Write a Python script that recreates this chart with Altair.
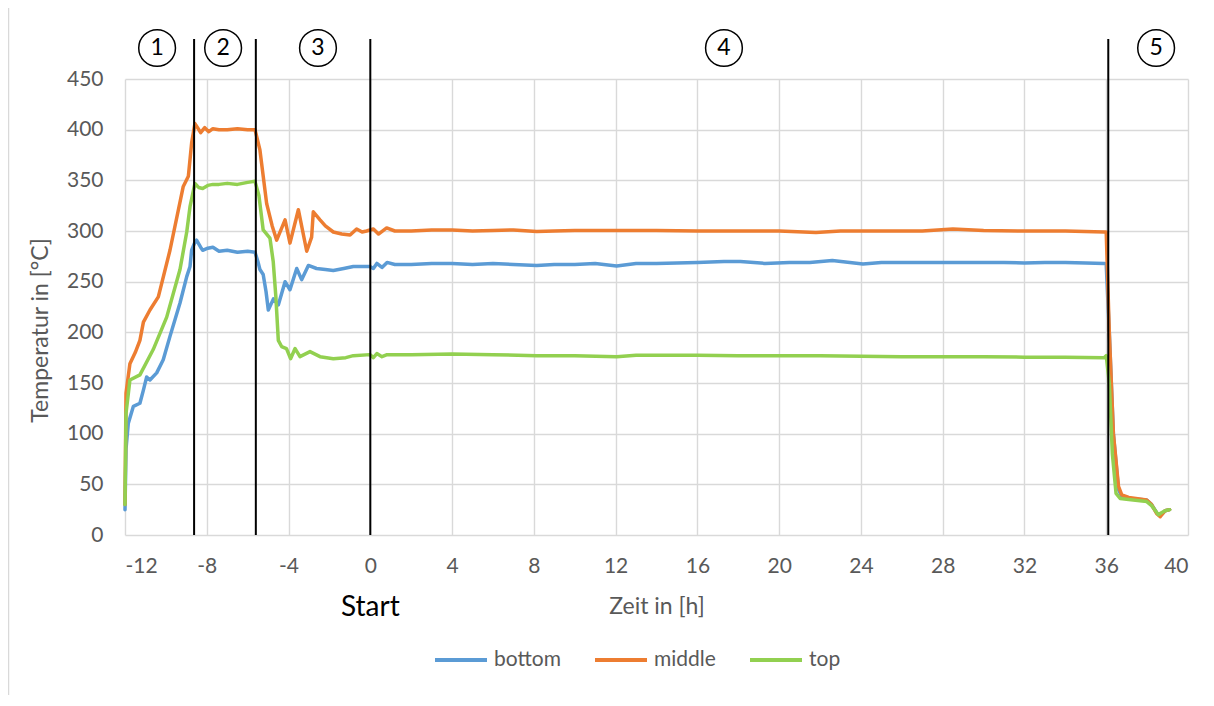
import altair as alt
import pandas as pd

# ---- data ----
series_names = ["bottom", "middle", "top"]
series_colors = ["#5B9BD5", "#ED7D31", "#92D050"]

bottom_t = [-12, -11.95, -11.84, -11.59, -11.27, -11.1, -10.94, -10.78, -10.45, -10.13,
            -9.8, -9.31, -8.98, -8.82, -8.74, -8.6, -8.5, -8.3, -8.2, -7.95,
            -7.7, -7.4, -7.0, -6.5, -6.0, -5.64, -5.5, -5.4, -5.24, -5.1,
            -4.99, -4.74, -4.5, -4.17, -3.93, -3.6, -3.36, -3.03, -2.63, -2.2,
            -1.81, -1.3, -0.83, -0.4, -0.02, 0.15, 0.32, 0.57, 0.82, 1.2,
            2, 3, 4, 5, 6, 7, 8.14, 9, 10, 11,
            12.05, 13, 14, 15, 16, 17.3, 18.1, 19.3, 20.5, 21.5,
            22.6, 24.1, 25, 26, 27, 28, 29, 30, 31, 32,
            33, 34, 35, 35.9, 36.0, 36.15, 36.35, 36.6, 36.76, 37.1,
            37.98, 38.22, 38.47, 38.64, 38.88, 39.1]
bottom_y = [25, 85, 110, 127, 130, 143, 156, 153, 160, 173,
            196, 229, 255, 265, 281, 288, 291, 284, 281, 283,
            284, 280, 281, 279, 280, 279, 270, 262, 257, 240,
            222, 233, 227, 250, 242, 263, 252, 266, 263, 262,
            261, 263, 265, 265, 265, 263, 268, 264, 269, 267,
            267, 268, 268, 267, 268, 267, 266, 267, 267, 268,
            265.5, 268, 268, 268.5, 269, 270, 270, 268, 269, 269,
            271, 267.5, 269, 269, 269, 269, 269, 269, 269, 268.5,
            269, 269, 268.5, 268, 267, 200, 100, 45, 38, 36,
            34.5, 30, 22, 19, 24, 25]

middle_t = [-12, -11.95, -11.76, -11.5, -11.27, -11.1, -10.78, -10.37, -9.8, -9.15,
            -8.9, -8.74, -8.58, -8.45, -8.3, -8.1, -7.9, -7.7, -7.4, -7.0,
            -6.5, -6.0, -5.64, -5.4, -5.07, -4.8, -4.58, -4.17, -3.93, -3.52,
            -3.11, -2.87, -2.79, -2.46, -2.2, -1.81, -1.4, -0.99, -0.67, -0.4,
            -0.18, 0.15, 0.4, 0.8, 1.2, 2, 3, 4, 5, 6,
            7, 8.14, 9, 10, 12, 14, 16, 18, 20, 21.8,
            23, 25, 27, 28.5, 30, 32, 34, 35.9, 36.0, 36.15,
            36.35, 36.6, 36.76, 37.1, 37.98, 38.22, 38.47, 38.64, 38.88, 39.1]
middle_y = [30, 140, 169, 180, 192, 210, 222, 235, 281, 344,
            354, 387, 406, 402, 397, 402, 398, 401, 400, 400,
            401, 400, 400, 380, 327, 305, 291, 311, 288, 321,
            280, 294, 319, 311, 305, 299, 297, 296, 302, 299,
            300, 302, 297, 303, 300, 300, 301, 301, 300, 300.5,
            301, 299.5, 300, 300.5, 300.5, 300.5, 300, 300, 300, 298.5,
            300, 300, 300, 302, 300.5, 300, 300, 299, 299, 200,
            100, 48, 39.5, 37, 34.5, 30, 21, 18, 24, 25]

top_t = [-12, -11.95, -11.76, -11.27, -10.62, -9.96, -9.31, -8.98, -8.82, -8.58,
         -8.4, -8.2, -7.95, -7.7, -7.4, -7.0, -6.5, -6.0, -5.64, -5.45,
         -5.24, -4.91, -4.75, -4.62, -4.5, -4.34, -4.1, -3.9, -3.68, -3.44,
         -2.95, -2.46, -1.81, -1.2, -0.83, -0.02, 0.15, 0.32, 0.57, 0.82,
         2, 4, 6, 8.14, 10, 12.05, 13, 16, 18, 20,
         22, 24, 26, 28, 30, 32, 34, 35.9, 36.0, 36.15,
         36.3, 36.48, 36.68, 37.1, 37.98, 38.22, 38.55, 38.7, 38.88, 39.1]
top_y = [30, 120, 153, 158, 183, 215, 262, 299, 324, 347,
         343, 342, 345, 346, 346, 347, 346, 348, 349, 335,
         301, 293, 270, 235, 192, 186, 184, 174, 184, 176,
         181, 176, 174, 175, 177, 178, 175, 179, 176, 178,
         178, 178.5, 178, 177, 177, 176, 177.5, 177.5, 177, 177,
         177, 176.5, 176, 176, 176, 175.5, 175.5, 175, 177, 150,
         80, 41, 36, 35, 33, 29, 20, 22, 24, 25]

phase_bounds = [-8.62, -5.6, 0.0, 36.1]
phase_labels = ["1", "2", "3", "4", "5"]
phase_label_x = [-10.43, -7.2, -2.56, 17.3, 38.44]
start_label = ["Start"]
start_label_x = [0.0]

x_ticks = list(range(-12, 41, 4))
y_ticks = list(range(0, 451, 50))

# ---- tables ----
rows = []
for name, ts, ys in [("bottom", bottom_t, bottom_y), ("middle", middle_t, middle_y), ("top", top_t, top_y)]:
    assert len(ts) == len(ys), name
    for t, v in zip(ts, ys):
        rows.append({"series": name, "t": t, "temp": v})
df = pd.DataFrame(rows)
bounds_df = pd.DataFrame({"t": phase_bounds})
labels_df = pd.DataFrame({"t": phase_label_x, "label": phase_labels})
start_df = pd.DataFrame({"t": start_label_x, "label": start_label})

FONT = "Lato"
GRAY = "#595959"
xscale = alt.Scale(domain=[-12, 40], nice=False, zero=False)
yscale = alt.Scale(domain=[0, 450], nice=False)

lines = alt.Chart(df).mark_line(strokeWidth=3.5, strokeCap="round", strokeJoin="round").encode(
    x=alt.X("t:Q", scale=xscale, title="Zeit in [h]",
            axis=alt.Axis(values=x_ticks, labelExpr="toString(datum.value)", grid=True,
                          ticks=False, domain=False,
                          labelPadding=37, labelBaseline="alphabetic",
                          titleY=78, titleBaseline="alphabetic")),
    y=alt.Y("temp:Q", scale=yscale, title="Temperatur in [°C]",
            axis=alt.Axis(values=y_ticks, grid=True, ticks=False, domain=False,
                          labelPadding=22,
                          titleX=-78, titleY=251, titleBaseline="alphabetic", titleAlign="center")),
    color=alt.Color("series:N", scale=alt.Scale(domain=series_names, range=series_colors),
                    legend=alt.Legend(title=None, orient="none", direction="horizontal",
                                      legendX=308, legendY=553, symbolType="stroke",
                                      symbolSize=2704, symbolStrokeWidth=4,
                                      labelFontSize=21, labelFont=FONT, labelColor=GRAY,
                                      labelOffset=5, columnPadding=26, padding=0)),
)

rules = alt.Chart(bounds_df).mark_rule(color="black", strokeWidth=2).encode(
    x=alt.X("t:Q", scale=xscale),
    y=alt.value(-40),
    y2=alt.value(456),
)

circles = alt.Chart(labels_df).mark_point(shape="circle", size=1350, filled=False,
                                          color="black", strokeWidth=1.5, opacity=1).encode(
    x=alt.X("t:Q", scale=xscale),
    y=alt.value(-31),
)
nums = alt.Chart(labels_df).mark_text(font=FONT, fontSize=23, color="black", baseline="middle").encode(
    x=alt.X("t:Q", scale=xscale),
    y=alt.value(-31),
    text="label:N",
)
start = alt.Chart(start_df).mark_text(font=FONT, fontSize=28, color="black", baseline="alphabetic").encode(
    x=alt.X("t:Q", scale=xscale),
    y=alt.value(537),
    text="label:N",
)
border = alt.Chart(start_df).mark_rule(color="#D9D9D9", strokeWidth=1.5).encode(
    x=alt.value(-116.5),
    y=alt.value(-79),
    y2=alt.value(620),
)

chart = alt.layer(lines, rules, circles, nums, start, border).properties(
    width=1063, height=456,
    autosize=alt.AutoSizeParams(type="none"),
    padding={"left": 117, "top": 71, "right": 18, "bottom": 160},
).configure_view(stroke=None).configure_axis(
    gridColor="#D9D9D9", gridWidth=1.4,
    labelFont=FONT, labelFontSize=21, labelColor=GRAY,
    titleFont=FONT, titleFontSize=23, titleColor=GRAY, titleFontWeight="normal",
)

chart.save("out.html", embed_options={"renderer": "svg", "actions": False})
